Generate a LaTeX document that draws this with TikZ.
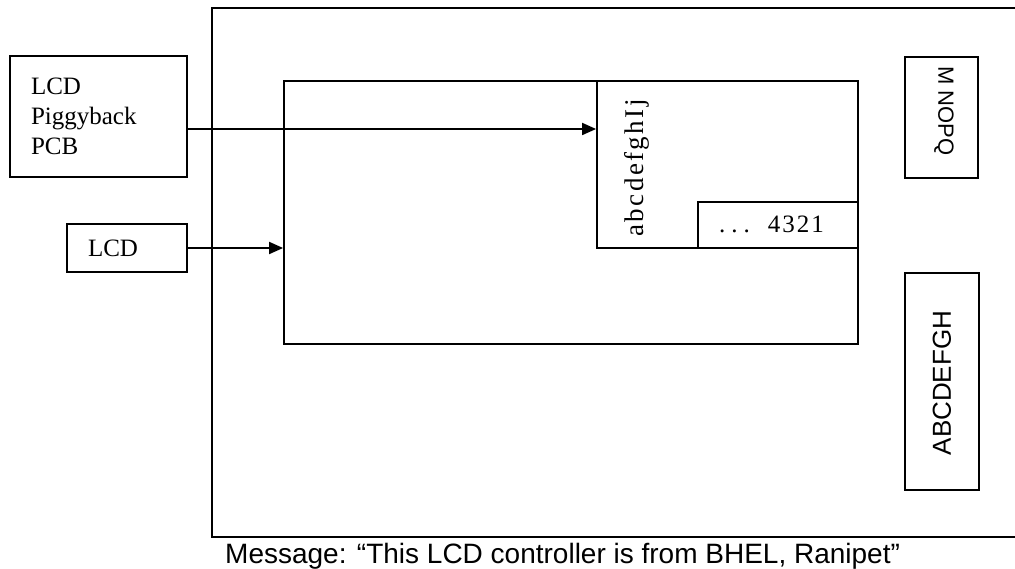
\documentclass[tikz,border=0pt]{standalone}
\usepackage{fontspec}
\setmainfont{Liberation Serif}
\newfontfamily\arialf{Liberation Sans}
\usetikzlibrary{arrows.meta}
\begin{document}
\begin{tikzpicture}[x=1pt,y=-1pt,
  frame/.style={draw,line width=1.8pt,inner sep=0pt},
  arr/.style={-{Triangle[length=14pt,width=12pt]},line width=1.8pt},
  serif/.style={font=\fontsize{#1}{30}\selectfont},
  sans/.style={font=\arialf\fontsize{#1}{#1}\selectfont}]
\useasboundingbox[fill=white] (0,0) rectangle (1015,569);

% outer frame (right side runs off the picture)
\coordinate (ftr) at (1015,8);
\coordinate (ftl) at (212,8);
\coordinate (fbl) at (212,537);
\coordinate (fbr) at (1015,537);
\draw[line width=1.8pt] (ftr) -- (ftl) -- (fbl) -- (fbr);

% board
\node[frame, minimum width=574pt, minimum height=263pt] (board) at (571,212.5) {};
\node[frame, minimum width=261pt, minimum height=167pt] (lcdarea) at (727.5,164.5) {};
\node[frame, minimum width=160pt, minimum height=46pt] (numbox) at (778,225) {};
\node[serif=25, anchor=base west, inner sep=0pt] (nums) at (719,233)
  {.\kern6pt.\kern6pt.\hspace{18pt}4\kern2pt3\kern2pt2\kern2pt1};
\node[serif=27, rotate=90, anchor=base, inner sep=0pt] (letters) at (643,168)
  {a\kern2.4pt b\kern2.4pt c\kern2.4pt d\kern2.4pt e\kern2.4pt f\kern2.4pt g\kern2.4pt h\kern2.4pt I\kern2.4pt j};

% left boxes
\node[frame, serif=25, text width=135pt, align=left, inner xsep=21pt,
      minimum height=121pt] (pcb) at (98.5,116.5) {LCD\\Piggyback\\PCB};
\node[frame, serif=25, text width=78pt, align=left, inner xsep=21pt,
      minimum height=48pt] (lcd) at (127,248) {LCD};

% arrows
\draw[arr] ([yshift=-12.5pt]pcb.east) coordinate (s1) -- (s1 -| lcdarea.west);
\draw[arr] (lcd.east) -- (lcd.east -| board.west);

% right boxes
\node[frame, minimum width=73pt, minimum height=121pt] (mbox) at (941.5,117.5) {};
\node[sans=22, rotate=-90] (mnopq) at (944,111) {M NOPQ};
\node[frame, minimum width=74pt, minimum height=217pt] (abox) at (942,381.5) {};
\node[sans=26, rotate=90] (abc) at (942,383) {ABCDEFGH};

% caption
\node[sans=28, anchor=base west, inner sep=0pt] (msg) at (225,563)
  {Message: “This LCD controller is from BHEL, Ranipet”};
\end{tikzpicture}
\end{document}
